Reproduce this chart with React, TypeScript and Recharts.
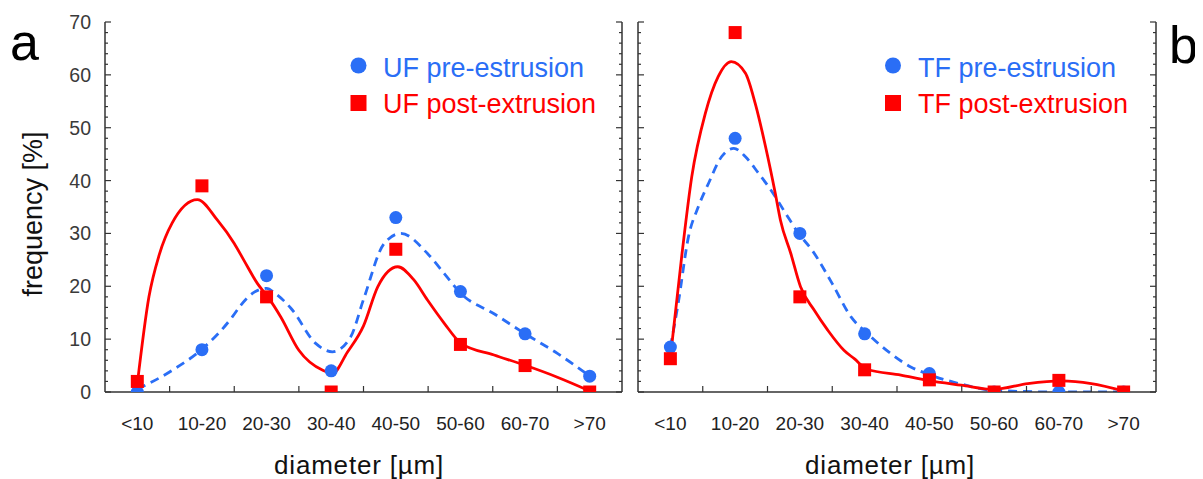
import { ComposedChart, Line, Scatter, XAxis, YAxis } from "recharts";

const categories = ["<10", "10-20", "20-30", "30-40", "40-50", "50-60", "60-70", ">70"];

// measured frequencies [%]
const ufPre = [0, 8, 22, 4, 33, 19, 11, 3];
const ufPost = [2, 39, 18, 0, 27, 9, 5, 0];
const tfPre = [8.5, 48, 30, 11, 3.5, 0, 0, 0];
const tfPost = [6.3, 68, 18, 4.2, 2.3, 0, 2.2, 0];

// fitted curves: [category position, value]
const ufPreFit: [number, number][] = [
  [0, 0.5], [0.54, 4.1], [1.01, 8.2], [1.47, 14.2], [1.6, 16.4], [1.81, 18.9], [2.0, 19.6], [2.14, 18.6],
  [2.38, 15.8], [2.76, 9.2], [3.02, 7.6], [3.3, 10.4], [3.5, 17.5], [3.82, 28.1], [4.08, 30],
  [4.49, 26.2], [4.75, 22.4], [5.01, 18.6], [5.52, 14.8], [5.99, 11.1], [6.5, 7.3], [7.0, 3.0],
];
const ufPostFit: [number, number][] = [
  [0, 1.5], [0.18, 18], [0.34, 26], [0.54, 32], [0.93, 36.4], [1.24, 32.5], [1.5, 28.1], [1.65, 24.9],
  [1.86, 20.5], [2.02, 18], [2.22, 14.2], [2.5, 7.9], [2.87, 4.1], [3.02, 3.5], [3.25, 7.5],
  [3.5, 12.5], [3.72, 19.9], [4.03, 23.7], [4.28, 21.2], [4.49, 17.4], [4.75, 13], [5.01, 9.2],
  [5.52, 7], [5.99, 5.1], [6.5, 2.8], [7.0, 0.2],
];
const tfPreFit: [number, number][] = [
  [0, 8.5], [0.12, 16.7], [0.28, 29.4], [0.43, 35], [0.59, 39.5], [0.79, 44.5], [0.98, 46.1],
  [1.16, 44.5], [1.36, 41.4], [1.57, 37.9], [1.78, 33.8], [1.98, 30], [2.19, 26.8], [2.5, 20.5],
  [2.79, 14.2], [3.04, 11.1], [3.4, 7.3], [3.72, 4.7], [4.02, 3.2], [4.49, 1.5], [5.0, 0.3],
  [6.0, 0], [7.0, 0],
];
const tfPostFit: [number, number][] = [
  [0, 6.5], [0.18, 26.2], [0.33, 40.7], [0.54, 52.7], [0.74, 59.7], [0.94, 62.5], [1.16, 60.3],
  [1.31, 54.6], [1.47, 46.4], [1.62, 37.6], [1.7, 32.5], [1.86, 26.2], [2.01, 19.9], [2.22, 15.5],
  [2.43, 11.7], [2.68, 7.9], [2.84, 6.3], [3.04, 4.3], [3.56, 3.2], [3.97, 2.2], [4.49, 1.3],
  [5.0, 0.5], [5.52, 1.6], [6.04, 2.1], [6.5, 1.6], [7.0, 0.2],
];

const xTicks = [0, 0.5, 1, 1.5, 2, 2.5, 3, 3.5, 4, 4.5, 5, 5.5, 6, 6.5, 7];
const yTicks = Array.from({ length: 36 }, (_, i) => i * 2);

const BLUE = "#2a6ef6";
const RED = "#ff0000";
const AXIS = "#333";
const FONT = "'Liberation Sans', Arial, sans-serif";

const toPoints = (vals: number[]) => vals.map((v, i) => ({ x: i, y: v }));
const toFit = (pts: [number, number][]) => pts.map(([x, y]) => ({ x, y }));

const leftTick = (labels: boolean) => (p: any) => {
  const v = p.payload.value;
  const major = v % 10 === 0;
  return (
    <g>
      <line x1={p.x} x2={p.x + (major ? 6 : 3)} y1={p.y} y2={p.y} stroke={AXIS} strokeWidth={1.2} />
      {labels && major && (
        <text x={p.x - 14} y={p.y} dy="0.36em" textAnchor="end" fontSize={19.5} fill="#3a3a3a" fontFamily={FONT}>
          {v}
        </text>
      )}
    </g>
  );
};

const rightTick = (p: any) => {
  const major = p.payload.value % 10 === 0;
  return <line x1={p.x} x2={p.x - (major ? 6 : 3)} y1={p.y} y2={p.y} stroke={AXIS} strokeWidth={1.2} />;
};

const bottomTick = (p: any) => {
  const v = p.payload.value;
  if (Number.isInteger(v)) {
    return (
      <text x={p.x} y={p.y + 31} dy="0.36em" textAnchor="middle" fontSize={19} fill="#222" fontFamily={FONT}>
        {categories[v]}
      </text>
    );
  }
  return <line x1={p.x} x2={p.x} y1={p.y} y2={p.y - 6} stroke={AXIS} strokeWidth={1.2} />;
};

const topTick = (p: any) => {
  if (Number.isInteger(p.payload.value)) return <g />;
  return <line x1={p.x} x2={p.x} y1={p.y} y2={p.y + 6} stroke={AXIS} strokeWidth={1.2} />;
};

const circleShape = (p: any) => <circle cx={p.cx} cy={p.cy} r={6.5} fill={BLUE} />;
const squareShape = (p: any) => <rect x={p.cx - 6.5} y={p.cy - 6.5} width={13} height={13} fill={RED} />;

interface PanelProps {
  left: number;
  width: number;
  yLeftWidth: number;
  yRightWidth: number;
  labels: boolean;
  pre: number[];
  post: number[];
  preFit: [number, number][];
  postFit: [number, number][];
}

function Panel({ left, width, yLeftWidth, yRightWidth, labels, pre, post, preFit, postFit }: PanelProps) {
  const axisLine = { stroke: AXIS, strokeWidth: 1.5 };
  return (
    <div style={{ position: "absolute", left, top: 0 }}>
      <ComposedChart width={width} height={479} margin={{ top: 22, right: 0, bottom: 0, left: 0 }}>
        <XAxis xAxisId="b" dataKey="x" type="number" domain={[-0.5, 7.5]} ticks={xTicks} interval={0}
          height={87} tickSize={0} tickMargin={0} tick={bottomTick} axisLine={axisLine} allowDataOverflow />
        <XAxis xAxisId="t" orientation="top" dataKey="x" type="number" domain={[-0.5, 7.5]} ticks={xTicks}
          interval={0} height={0} tickSize={0} tickMargin={0} tick={topTick} axisLine={axisLine} allowDataOverflow />
        <YAxis yAxisId="l" dataKey="y" type="number" domain={[0, 70]} ticks={yTicks} interval={0}
          width={yLeftWidth} tickSize={0} tickMargin={0} tick={leftTick(labels)} axisLine={axisLine} allowDataOverflow />
        <YAxis yAxisId="r" orientation="right" dataKey="y" type="number" domain={[0, 70]} ticks={yTicks}
          interval={0} width={yRightWidth} tickSize={0} tickMargin={0} tick={rightTick} axisLine={axisLine}
          allowDataOverflow />
        <Line xAxisId="b" yAxisId="l" data={toFit(preFit)} dataKey="y" type="monotone" stroke={BLUE}
          strokeWidth={2.8} strokeDasharray="9 6" dot={false} isAnimationActive={false} />
        <Line xAxisId="b" yAxisId="l" data={toFit(postFit)} dataKey="y" type="monotone" stroke={RED}
          strokeWidth={2.8} dot={false} isAnimationActive={false} />
        <Scatter xAxisId="b" yAxisId="l" data={toPoints(pre)} dataKey="y" shape={circleShape}
          isAnimationActive={false} />
        <Scatter xAxisId="b" yAxisId="l" data={toPoints(post)} dataKey="y" shape={squareShape}
          isAnimationActive={false} />
      </ComposedChart>
    </div>
  );
}

export default function App() {
  return (
    <div style={{ position: "relative", width: 1203, height: 479, margin: "-8px 0 0 -8px", background: "#fff" }}>
      <Panel left={0} width={628} yLeftWidth={105} yRightWidth={6} labels
        pre={ufPre} post={ufPost} preFit={ufPreFit} postFit={ufPostFit} />
      <Panel left={630} width={530} yLeftWidth={8} yRightWidth={4} labels={false}
        pre={tfPre} post={tfPost} preFit={tfPreFit} postFit={tfPostFit} />
      <svg width={1203} height={479} style={{ position: "absolute", left: 0, top: 0, pointerEvents: "none" }}
        fontFamily={FONT}>
        <text x={10} y={60} fontSize={52} fill="#000">a</text>
        <text x={1169} y={63} fontSize={52} fill="#000">b</text>
        <text transform="translate(42,214) rotate(-90)" textAnchor="middle" fontSize={27} fill="#111">
          frequency [%]
        </text>
        <text x={359} y={474} textAnchor="middle" fontSize={26} fill="#111" letterSpacing={0.8}>diameter [µm]</text>
        <text x={890} y={474} textAnchor="middle" fontSize={26} fill="#111" letterSpacing={0.8}>diameter [µm]</text>

        <circle cx={358.5} cy={65.5} r={8} fill={BLUE} />
        <text x={383} y={76.7} fontSize={27} fill={BLUE}>UF pre-estrusion</text>
        <rect x={350.5} y={95} width={16} height={16} fill={RED} />
        <text x={383} y={112.7} fontSize={27} fill={RED}>UF post-extrusion</text>

        <circle cx={893} cy={65.5} r={8} fill={BLUE} />
        <text x={918} y={76.7} fontSize={27} fill={BLUE}>TF pre-estrusion</text>
        <rect x={885} y={95} width={16} height={16} fill={RED} />
        <text x={918} y={112.7} fontSize={27} fill={RED}>TF post-extrusion</text>
      </svg>
    </div>
  );
}
